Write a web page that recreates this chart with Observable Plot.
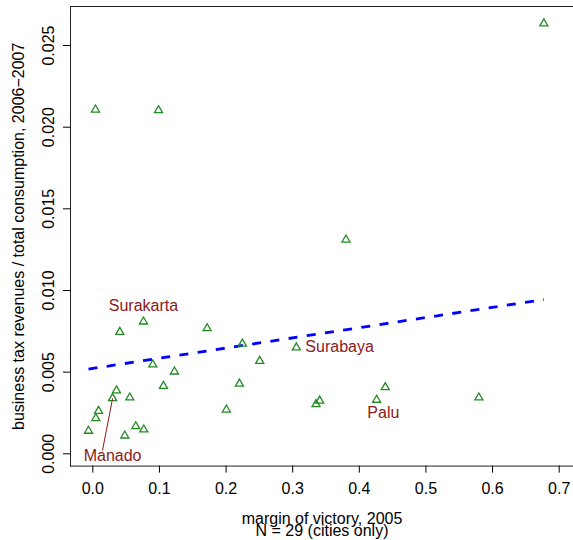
<!DOCTYPE html>
<html><head><meta charset="utf-8">
<script src="https://cdn.jsdelivr.net/npm/d3@7"></script>
<script src="https://cdn.jsdelivr.net/npm/@observablehq/plot@0.6"></script>
<style>body{margin:0;background:#fff}</style>
</head><body><div id="chart"></div>
<script>
// margin of victory, 2005
const margin = [0.004, 0.0986, 0.677, 0.380, 0.076, 0.0405, 0.1716, 0.2245, 0.2505, 0.3055,
  0.090, 0.1225, 0.106, 0.220, 0.2005, 0.0355, 0.0297, 0.0555, 0.0086, 0.0045,
  -0.0065, 0.048, 0.0645, 0.0765, 0.3405, 0.335, 0.439, 0.426, 0.5795];
// business tax revenues / total consumption, 2006-2007
const taxShare = [0.02107, 0.02103, 0.02635, 0.01311, 0.00809, 0.00746, 0.00768, 0.00674, 0.00568, 0.00651,
  0.00546, 0.00503, 0.00415, 0.00429, 0.00270, 0.00387, 0.00340, 0.00344, 0.00262, 0.00217,
  0.00140, 0.00111, 0.00168, 0.00148, 0.00325, 0.00303, 0.00407, 0.00330, 0.00344];
const labelNames = ["Surakarta", "Surabaya", "Palu", "Manado"];
const labelIndex = [4, 9, 27, 16];
const manadoLeaderEnd = [0.0145, 0.0002];
const fitIntercept = 0.00523;
const fitSlope = 0.00623;
const xTicks = [0, 0.1, 0.2, 0.3, 0.4, 0.5, 0.6, 0.7];
const yTicks = [0, 0.005, 0.010, 0.015, 0.020, 0.025];
const xTitle = "margin of victory, 2005";
const xSubtitle = "N = 29 (cities only)";
const yTitle = "business tax revenues / total consumption, 2006\u22122007";

const pts = margin.map((m, i) => ({m, t: taxShare[i]}));
const fit = d3.extent(margin).map(m => ({m, t: fitIntercept + fitSlope * m}));
const lab = labelNames.map((name, k) => ({name, ...pts[labelIndex[k]]}));
const man = pts[labelIndex[3]];
const leader = [{x1: man.m, y1: man.t, x2: manadoLeaderEnd[0], y2: manadoLeaderEnd[1]}];
const red = "#8b1a1a";

const chart = Plot.plot({
  width: 573, height: 540,
  marginLeft: 70, marginTop: 6, marginRight: 0, marginBottom: 74.4,
  style: {fontFamily: "'Liberation Sans', Arial, sans-serif", fontSize: "16px", background: "#fff", color: "#000"},
  x: {domain: [-0.0335, 0.7215]},
  y: {domain: [-0.000753, 0.02739]},
  marks: [
    Plot.frame({anchor: "top", stroke: "#222"}),
    Plot.frame({anchor: "bottom", stroke: "#222"}),
    Plot.frame({anchor: "left", stroke: "#222"}),
    Plot.axisX({ticks: xTicks, tickSize: 7, tickPadding: 10, tickFormat: d3.format(".1f"), fontSize: 16, label: null}),
    Plot.axisY({ticks: yTicks, tickSize: 7, tickPadding: 9.7, tickRotate: -90, tickFormat: d3.format(".3f"), fontSize: 16, label: null}),
    Plot.line(fit, {x: "m", y: "t", stroke: "#0000ff", strokeWidth: 2.8, strokeDasharray: "9,9.4", strokeLinecap: "butt"}),
    Plot.dot(pts, {x: "m", y: "t", symbol: "triangle", r: 3, stroke: "#228b22", strokeWidth: 1.3, fill: "none"}),
    Plot.link(leader, {x1: "x1", y1: "y1", x2: "x2", y2: "y2", stroke: red, strokeWidth: 1}),
    Plot.text([lab[0]], {x: "m", y: "t", text: "name", dy: -15.8, fill: red, fontSize: 16}),
    Plot.text([lab[1]], {x: "m", y: "t", text: "name", dx: 9, dy: -1, textAnchor: "start", fill: red, fontSize: 16}),
    Plot.text([lab[2]], {x: "m", y: "t", text: "name", dx: 6.7, dy: 12.7, fill: red, fontSize: 16}),
    Plot.text([lab[3]], {x: "m", y: "t", text: "name", dy: 57.1, fill: red, fontSize: 16}),
    Plot.text([yTitle], {text: d => d, frameAnchor: "left", dx: -46.7, rotate: -90, lineAnchor: "bottom", textAnchor: "middle", fontSize: 16}),
    Plot.text([xTitle], {text: d => d, frameAnchor: "bottom", dy: 57.6, lineAnchor: "bottom", fontSize: 16}),
    Plot.text([xSubtitle], {text: d => d, frameAnchor: "bottom", dy: 69.6, lineAnchor: "bottom", fontSize: 16})
  ]
});
document.getElementById("chart").appendChild(chart);
</script>
</body></html>
